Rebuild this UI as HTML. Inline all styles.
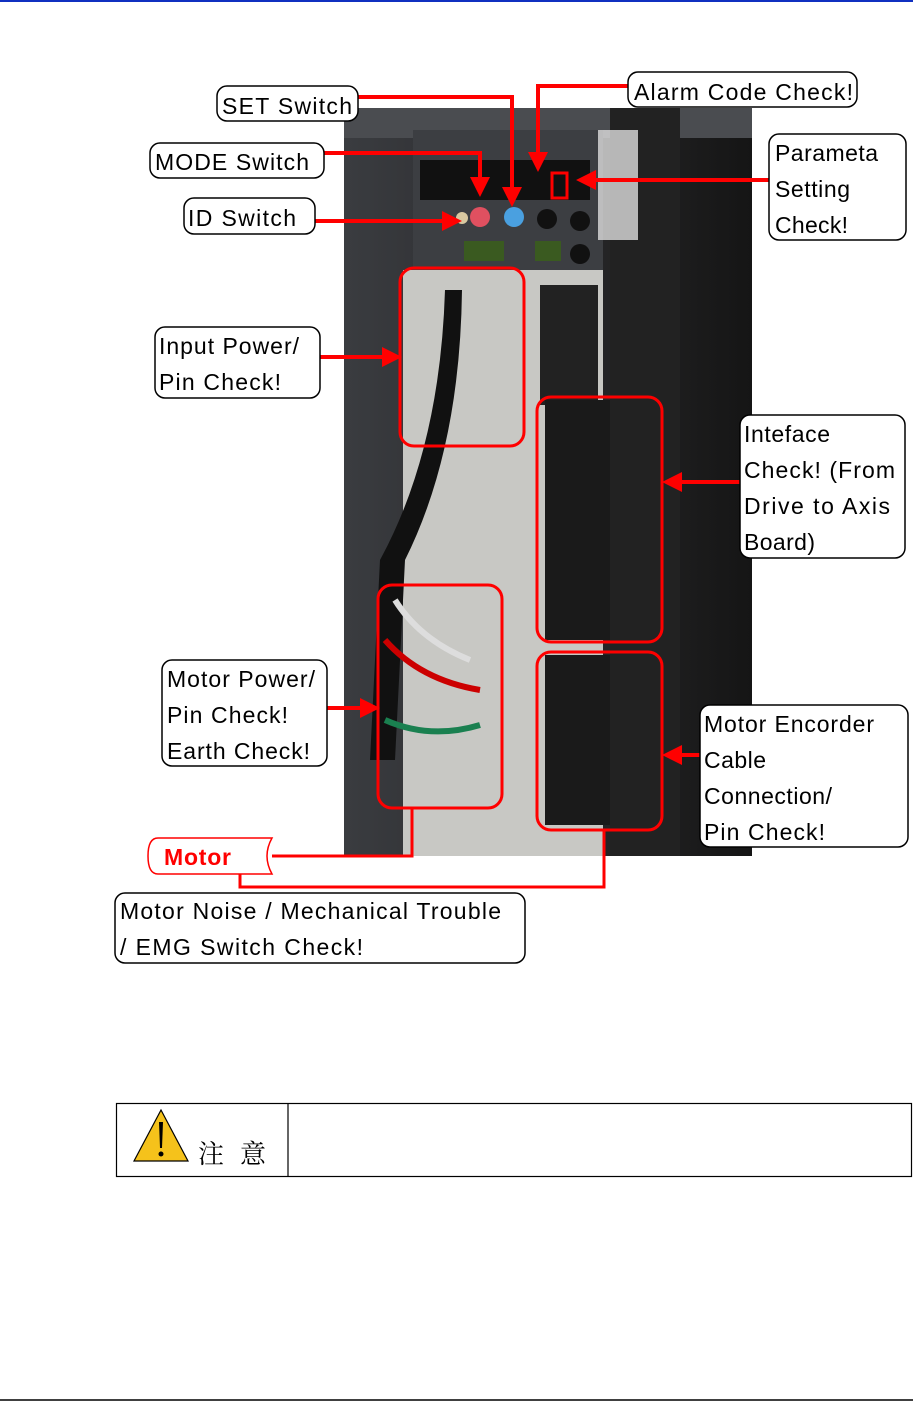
<!DOCTYPE html>
<html><head><meta charset="utf-8"><style>
html,body{margin:0;padding:0;background:#fff;}
body{width:913px;height:1402px;position:relative;overflow:hidden;font-family:"Liberation Sans","Noto Sans CJK SC",sans-serif;}
svg{position:absolute;left:0;top:0;}
text{font-family:"Liberation Sans",sans-serif;font-size:23px;fill:#000;}
</style></head><body>
<svg width="913" height="1402" viewBox="0 0 913 1402">
<defs>
<marker id="a" markerWidth="5" markerHeight="5" refX="4" refY="2.5" orient="auto" markerUnits="strokeWidth"><path d="M0,0 L5,2.5 L0,5 z" fill="#f00"/></marker>
<linearGradient id="bg" x1="0" x2="1"><stop offset="0" stop-color="#3a3c40"/><stop offset="0.5" stop-color="#2a2a2c"/><stop offset="1" stop-color="#151515"/></linearGradient>
</defs>
<line x1="0" y1="1" x2="913" y2="1" stroke="#1030c0" stroke-width="2"/>
<line x1="0" y1="1400" x2="913" y2="1400" stroke="#000" stroke-width="1.5"/>
<rect x="344" y="108" width="408" height="748" fill="url(#bg)"/>
<rect x="344" y="108" width="408" height="30" fill="#4a4c50"/>
<rect x="413" y="130" width="190" height="140" fill="#3c3e42"/>
<rect x="420" y="160" width="170" height="40" fill="#111"/>
<circle cx="462" cy="218" r="6" fill="#d8c8a0"/>
<circle cx="480" cy="217" r="10" fill="#e05060"/>
<circle cx="514" cy="217" r="10" fill="#4aa0e0"/>
<circle cx="547" cy="219" r="10" fill="#111"/>
<circle cx="580" cy="221" r="10" fill="#111"/>
<circle cx="580" cy="254" r="10" fill="#111"/>
<rect x="464" y="241" width="40" height="20" fill="#3a5a20"/>
<rect x="535" y="241" width="26" height="20" fill="#3a5a20"/>
<rect x="403" y="270" width="200" height="586" fill="#c8c8c4"/>
<rect x="540" y="285" width="58" height="120" fill="#222"/>
<rect x="545" y="400" width="110" height="240" fill="#1a1a1a"/>
<rect x="545" y="655" width="110" height="170" fill="#1a1a1a"/>
<rect x="610" y="108" width="70" height="748" fill="#222"/>
<rect x="598" y="130" width="40" height="110" fill="#ddd" opacity="0.8"/>
<path d="M445 290 Q440 450 380 560 L370 760 L395 760 L405 560 Q460 450 462 290z" fill="#111"/>
<path d="M385 640 Q420 680 480 690" stroke="#c00" stroke-width="6" fill="none"/>
<path d="M385 720 Q430 740 480 725" stroke="#1a8050" stroke-width="6" fill="none"/>
<path d="M395 600 Q420 640 470 660" stroke="#ddd" stroke-width="6" fill="none"/>
<g fill="none" stroke="#f00" stroke-width="3">
<rect x="400" y="268" width="124" height="178" rx="14"/>
<rect x="537" y="397" width="125" height="245" rx="14"/>
<rect x="378" y="585" width="124" height="223" rx="14"/>
<rect x="537" y="652" width="125" height="178" rx="14"/>
<rect x="552" y="173" width="15" height="25"/>
</g>
<g fill="none" stroke="#f00" stroke-width="4">
<path d="M358 97 H512 V203" marker-end="url(#a)"/>
<path d="M628 86 H538 V168" marker-end="url(#a)"/>
<path d="M324 153 H480 V193" marker-end="url(#a)"/>
<path d="M769 180 H580" marker-end="url(#a)"/>
<path d="M315 221 H458" marker-end="url(#a)"/>
<path d="M320 357 H398" marker-end="url(#a)"/>
<path d="M740 482 H666" marker-end="url(#a)"/>
<path d="M327 708 H376" marker-end="url(#a)"/>
<path d="M700 755 H666" marker-end="url(#a)"/>
</g>
<g fill="none" stroke="#f00" stroke-width="3">
<path d="M272 856 H412 V808"/>
<path d="M240 874 V887 H604 V830"/>
</g>
<g fill="#fff" stroke="#000" stroke-width="1.5">
<rect x="217" y="86" width="141" height="35" rx="10"/>
<rect x="628" y="72" width="229" height="35" rx="10"/>
<rect x="150" y="143" width="174" height="35" rx="10"/>
<rect x="769" y="134" width="137" height="106" rx="10"/>
<rect x="184" y="198" width="131" height="36" rx="10"/>
<rect x="155" y="327" width="165" height="71" rx="10"/>
<rect x="740" y="415" width="165" height="143" rx="10"/>
<rect x="162" y="660" width="165" height="106" rx="10"/>
<rect x="700" y="705" width="208" height="142" rx="10"/>
<rect x="115" y="893" width="410" height="70" rx="10"/>
</g>
<path d="M158 838 H272 Q262 856 272 874 H158 Q148 874 148 856 Q148 838 158 838z" fill="#fff" stroke="#f00" stroke-width="1.5"/>
<g lengthAdjust="spacing">
<text x="222" y="114" textLength="130">SET Switch</text>
<text x="634" y="100" textLength="219">Alarm Code Check!</text>
<text x="155" y="170" textLength="154">MODE Switch</text>
<text x="775" y="161" textLength="103">Parameta</text>
<text x="775" y="197" textLength="75">Setting</text>
<text x="775" y="233" textLength="73">Check!</text>
<text x="188" y="226" textLength="108">ID Switch</text>
<text x="159" y="354" textLength="140">Input Power/</text>
<text x="159" y="390" textLength="122">Pin Check!</text>
<text x="744" y="442" textLength="86">Inteface</text>
<text x="744" y="478" textLength="151">Check! (From</text>
<text x="744" y="514" textLength="146">Drive to Axis</text>
<text x="744" y="550" textLength="71">Board)</text>
<text x="167" y="687" textLength="148">Motor Power/</text>
<text x="167" y="723" textLength="121">Pin Check!</text>
<text x="167" y="759" textLength="143">Earth Check!</text>
<text x="704" y="732" textLength="170">Motor Encorder</text>
<text x="704" y="768" textLength="62">Cable</text>
<text x="704" y="804" textLength="128">Connection/</text>
<text x="704" y="840" textLength="121">Pin Check!</text>
<text x="164" y="865" textLength="67" style="fill:#f00;font-weight:bold">Motor</text>
<text x="120" y="919" textLength="381">Motor Noise / Mechanical Trouble</text>
<text x="120" y="955" textLength="243">/ EMG Switch Check!</text>
</g>
<rect x="116.5" y="1103.5" width="795" height="73" fill="none" stroke="#000" stroke-width="1.2"/>
<line x1="288" y1="1103" x2="288" y2="1177" stroke="#000" stroke-width="1.2"/>
<path d="M161 1110 L188 1161 L134 1161z" fill="#f5c21b" stroke="#000" stroke-width="1.2"/>
<path d="M159 1122 L163 1122 L162 1148 L160 1148z" fill="#000"/>
<circle cx="161" cy="1154" r="2.5" fill="#000"/>
<text x="198" y="1163" textLength="68" lengthAdjust="spacing" style="font-family:'Noto Serif CJK SC',serif;font-size:26px">注 意</text>
</svg>
</body></html>
